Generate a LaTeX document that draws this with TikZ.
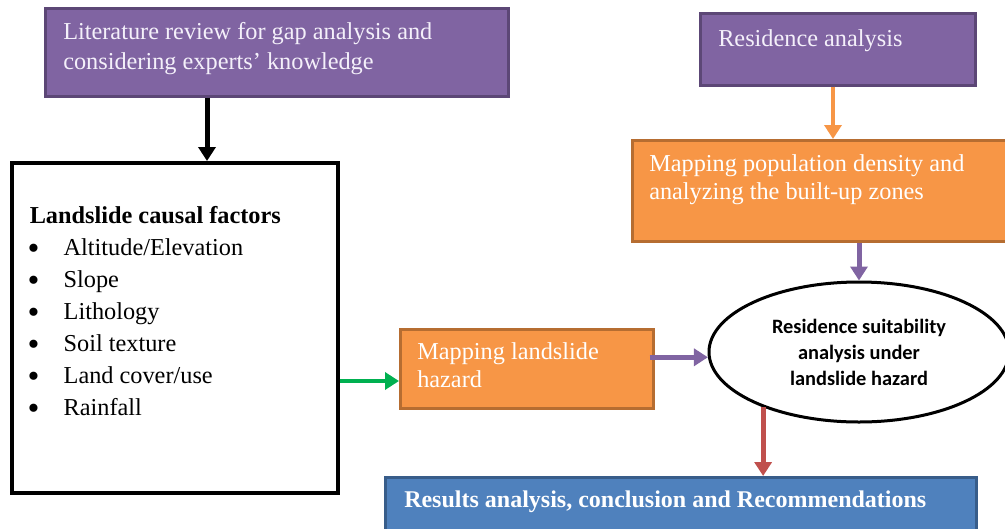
\documentclass[tikz,border=0pt]{standalone}
\usepackage{fontspec}
\setmainfont{Liberation Serif}
\newfontfamily\calib{Carlito}
\usetikzlibrary{arrows.meta,calc,shapes.geometric}
\definecolor{pfill}{HTML}{8064A2}
\definecolor{pline}{HTML}{5C4776}
\definecolor{ofill}{HTML}{F79646}
\definecolor{oline}{HTML}{B66D31}
\definecolor{bfill}{HTML}{4F81BD}
\definecolor{bline}{HTML}{385D8A}
\definecolor{garrow}{HTML}{00B050}
\definecolor{rarrow}{HTML}{C0504D}
\definecolor{txtw}{HTML}{F4F0FA}
\newcommand{\btext}[4]{\parbox[c][#2][t]{#1}{\vspace*{#3}\strut #4}}
\newcommand{\bitem}{\hspace*{-2pt}\raisebox{-4.5pt}{\fontsize{34}{32}\selectfont\textbullet}\hspace{24pt}}
\tikzset{
  boxbase/.style={anchor=north west, inner ysep=0pt, line width=2.5pt, align=left},
  pbox/.style={boxbase, draw=pline, fill=pfill, text=txtw, font=\fontsize{24.3}{30}\selectfont},
  obox/.style={boxbase, draw=oline, fill=ofill, text=white, font=\fontsize{24.3}{28}\selectfont},
  bbox/.style={boxbase, draw=bline, fill=bfill, text=white, font=\fontsize{24}{28}\selectfont\bfseries},
  fbox/.style={boxbase, draw=black, fill=white, line width=3.5pt, font=\fontsize{24.3}{32}\selectfont},
  ebox/.style={ellipse, draw=black, line width=3pt, fill=white, align=center, inner sep=0pt,
     minimum width=300pt, minimum height=140pt, font=\calib\bfseries\fontsize{20.4}{26}\selectfont},
  arr/.style={line width=#1, -{Triangle[width=17pt,length=14pt]}},
}
\begin{document}
\begin{tikzpicture}[x=1pt,y=-1pt]
\useasboundingbox (0,0) rectangle (1005,528);
\clip (0,0) rectangle (1005,528);
\node[pbox, inner xsep=18pt] (lit) at (44,7)
  {\btext{427pt}{88pt}{10pt}{Literature review for gap analysis and\\considering experts’ knowledge}};
\node[pbox, inner xsep=18pt] (res) at (699,12)
  {\btext{239pt}{72pt}{12pt}{Residence analysis}};
\node[obox, inner xsep=17pt] (pop) at (631,139)
  {\btext{346pt}{101pt}{12pt}{Mapping population density and\\analyzing the built-up zones}};
\node[fbox, inner xsep=18pt] (fac) at (10,161)
  {\btext{290pt}{330pt}{38pt}{\textbf{Landslide causal factors}\\
   \bitem Altitude/Elevation\\
   \bitem Slope\\
   \bitem Lithology\\
   \bitem Soil texture\\
   \bitem Land cover/use\\
   \bitem Rainfall}};
\node[obox, inner xsep=17pt] (haz) at (399,328)
  {\btext{219pt}{79pt}{11pt}{Mapping landslide\\hazard}};
\node[ebox] (ell) at (859,352) {Residence suitability\\analysis under\\landslide hazard};
\node[bbox, inner xsep=19pt] (res2) at (384,476)
  {\btext{553pt}{64pt}{11pt}{Results analysis, conclusion and Recommendations}};
\coordinate (ax) at (207,0);
\coordinate (gy) at (0,381);
\draw[arr=5pt, black] (lit.south -| ax) -- (fac.north -| ax);
\draw[arr=4pt, ofill] (res.south -| 833,0) -- (pop.north -| 833,0);
\draw[arr=5pt, pfill] (pop.south -| ell.north) -- (ell.north);
\draw[arr=5pt, pfill] ([xshift=-5pt]haz.east |- ell.182) -- (ell.182);
\draw[arr=4.5pt, garrow] (fac.east |- gy) -- (haz.west |- gy);
\draw[arr=5pt, rarrow] (ell.210) -- (ell.210 |- res2.north);
\end{tikzpicture}
\end{document}
